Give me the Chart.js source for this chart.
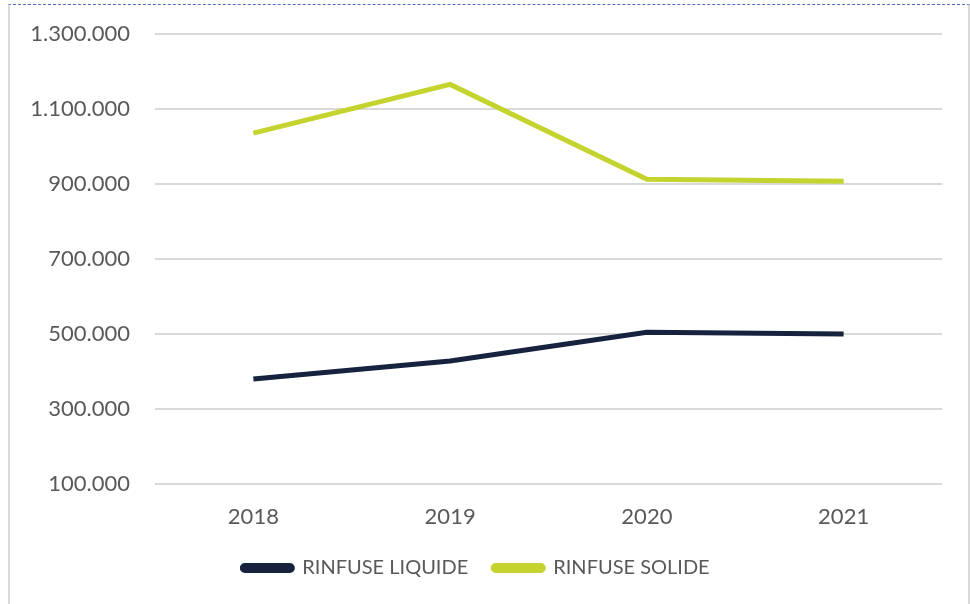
<!DOCTYPE html>
<html>
<head>
<meta charset="utf-8">
<script src="https://cdn.jsdelivr.net/npm/chart.js@4.4.1/dist/chart.umd.min.js"></script>
<style>
  html, body { margin: 0; padding: 0; background: #fff; }
  #frame {
    position: absolute; left: 8px; top: 4px; width: 958px; height: 610px;
    border-top: 1px dashed #4a6fc0;
    border-left: 2px solid #d9d9d9;
    border-right: 2px solid #d9d9d9;
  }
  #wrap { position: absolute; left: 0; top: 0; width: 958px; height: 599px; }
</style>
</head>
<body>
<div id="frame"><div id="wrap"><canvas id="volumes"></canvas></div></div>
<script>
const years = ['2018', '2019', '2020', '2021'];
const rinfuseLiquide = [380000, 428000, 505000, 500000];
const rinfuseSolide = [1036000, 1166000, 913000, 908000];

const fmt = v => v.toLocaleString('de-DE');

const ctx = document.getElementById('volumes');
new Chart(ctx, {
  type: 'line',
  data: {
    labels: years,
    datasets: [{
      label: 'RINFUSE LIQUIDE',
      data: rinfuseLiquide,
      borderColor: '#17223f',
      backgroundColor: '#17223f',
      borderWidth: 5,
      pointRadius: 0,
      tension: 0
    }, {
      label: 'RINFUSE SOLIDE',
      data: rinfuseSolide,
      borderColor: '#c4d32d',
      backgroundColor: '#c4d32d',
      borderWidth: 5,
      pointRadius: 0,
      tension: 0
    }]
  },
  options: {
    responsive: true,
    maintainAspectRatio: false,
    animation: false,
    layout: { padding: { top: 0, right: 26, bottom: 16, left: 0 } },
    plugins: {
      tooltip: { enabled: false },
      legend: {
        position: 'bottom',
        labels: {
          color: '#595959',
          font: { family: 'Lato', size: 20 },
          boxWidth: 50,
          boxHeight: 5,
          useBorderRadius: true,
          borderRadius: 2.5,
          padding: 25
        }
      }
    },
    scales: {
      x: {
        offset: true,
        grid: { display: false, drawTicks: false },
        border: { display: false },
        afterFit: s => { s.height = 49; },
        ticks: { color: '#595959', font: { family: 'Lato', size: 22 }, padding: 20 }
      },
      y: {
        min: 100000,
        max: 1300000,
        grid: { color: '#d9d9d9', lineWidth: 2, tickLength: 9, tickColor: 'transparent' },
        border: { display: false },
        afterFit: s => { s.width = 145; },
        ticks: {
          stepSize: 200000,
          color: '#595959',
          font: { family: 'Lato', size: 22 },
          padding: 16,
          callback: v => fmt(v)
        }
      }
    }
  }
});
</script>
</body>
</html>
